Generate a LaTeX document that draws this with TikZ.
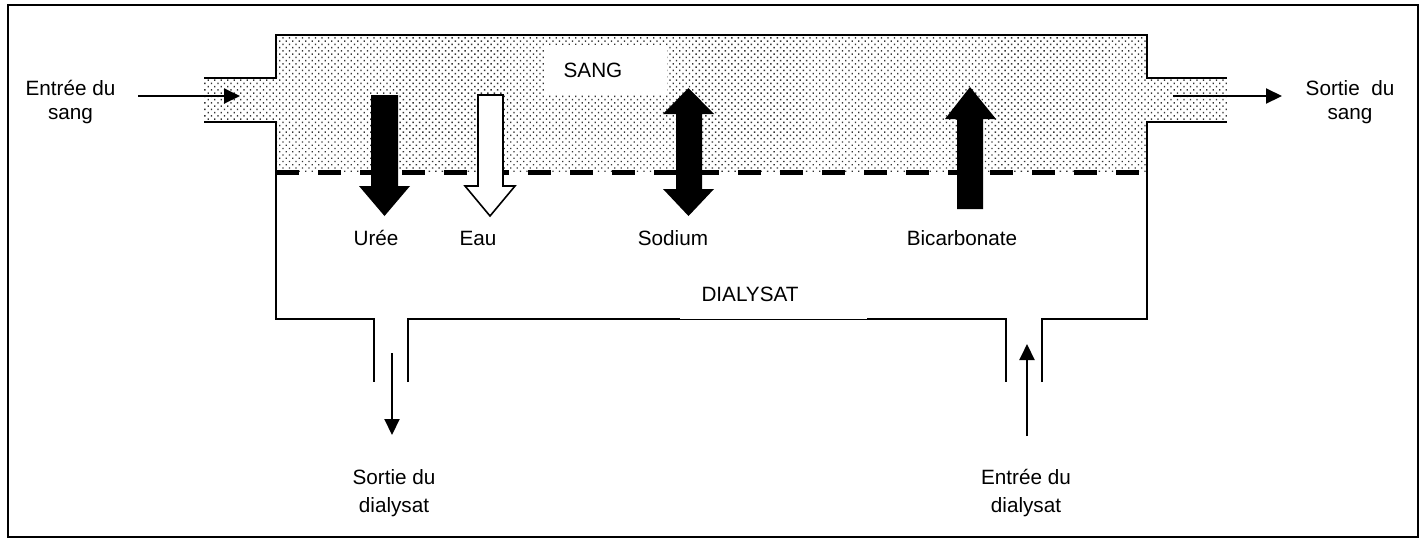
\documentclass[tikz,border=0pt]{standalone}
\usepackage{fontspec}
\setmainfont{Liberation Sans}
\usetikzlibrary{patterns.meta,arrows.meta}
\begin{document}
\begin{tikzpicture}[x=1pt,y=-1pt,
  lbl/.style={font=\fontsize{20.7}{24}\selectfont, inner sep=0pt, anchor=base, align=center},
  wall/.style={line width=2.8pt, line join=miter},
  flow/.style={line width=2pt, -{Triangle[length=16pt,width=15pt]}},
  blood/.style={pattern={Dots[distance=4.6pt, angle=45, radius=0.95pt]}, pattern color=black!80},
  membrane/.style={line width=5pt, dash pattern=on 23pt off 19pt},
  solid arrow/.style={fill=black, draw=none},
  hollow arrow/.style={fill=white, draw=black, line width=1.6pt, line join=miter}]
\useasboundingbox (0,0) rectangle (1423,542);
% outer frame
\draw[line width=2pt] (8,5) rectangle (1418,537);
% blood compartment fill
\path[blood] (204,78) -- (276,78) -- (276,35) -- (1147,35) -- (1147,78) -- (1227,78)
  -- (1227,122) -- (1147,122) -- (1147,172) -- (276,172) -- (276,122) -- (204,122) -- cycle;
% membrane
\draw[membrane] (276,172) -- (1142,172);
% walls
\draw[wall] (204,78) -- (276,78) -- (276,35) -- (1147,35) -- (1147,78) -- (1227,78);
\draw[wall] (204,122) -- (276,122) -- (276,319) -- (374,319) -- (374,382);
\draw[wall] (408,382) -- (408,319) -- (1006,319) -- (1006,382);
\draw[wall] (1042,382) -- (1042,319) -- (1147,319) -- (1147,122) -- (1227,122);
% label boxes
\node[fill=white, minimum width=123pt, minimum height=50pt, inner sep=0pt] (sangbox) at (605.5,70) {};
\node[lbl] (sang) at (593,77) {SANG};
\node[fill=white, minimum width=187pt, minimum height=44pt, inner sep=0pt] (dialbox) at (773.5,297) {};
\node[lbl] (dialysat) at (750,301) {DIALYSAT};
% transport arrows
\path[solid arrow] (371,95) -- (398,95) -- (398,186) -- (410,186) -- (384.5,216) -- (359,186) -- (371,186) -- cycle;
\path[hollow arrow] (478,95) -- (503,95) -- (503,186) -- (515,186) -- (490,216) -- (465,186) -- (478,186) -- cycle;
\path[solid arrow] (676,114) -- (663,114) -- (688.5,88) -- (714,114) -- (702,114) -- (702,189) -- (714,189)
  -- (688.5,216) -- (663,189) -- (676,189) -- cycle;
\path[solid arrow] (957,209) -- (957,119) -- (945,119) -- (970,87) -- (996,119) -- (983,119) -- (983,209) -- cycle;
\node[lbl] (uree) at (376,245) {Urée};
\node[lbl] (eau) at (478,245) {Eau};
\node[lbl] (sodium) at (673,245.5) {Sodium};
\node[lbl] (bicar) at (962,245) {Bicarbonate};
% flow labels (base anchor = baseline of the last line)
\node[lbl] (insang) at (70.5,119) {Entrée du\\sang};
\node[lbl] (outsang) at (1350,119) {Sortie\ \ du\\sang};
\node[lbl, font=\fontsize{20.7}{28}\selectfont] (outdial) at (394,512) {Sortie du\\dialysat};
\node[lbl, font=\fontsize{20.7}{28}\selectfont] (indial) at (1026,512) {Entrée du\\dialysat};
% flow arrows
\coordinate (inA) at (138,96);
\coordinate (inB) at (240,96);
\coordinate (outA) at (1173,96);
\coordinate (outB) at (1282,96);
\coordinate (odA) at (392,353);
\coordinate (odB) at (392,435);
\coordinate (idA) at (1027,436);
\coordinate (idB) at (1027,344);
\draw[flow] (inA) -- (inB);
\draw[flow] (outA) -- (outB);
\draw[flow] (odA) -- (odB);
\draw[flow] (idA) -- (idB);
\end{tikzpicture}
\end{document}
